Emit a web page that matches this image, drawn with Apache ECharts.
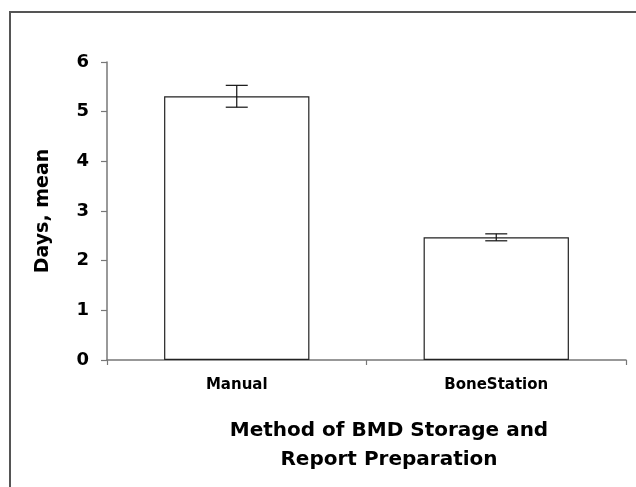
<!DOCTYPE html>
<html>
<head>
<meta charset="utf-8">
<script src="https://cdn.jsdelivr.net/npm/echarts@6/dist/echarts.min.js"></script>
<style>
  html, body { margin: 0; padding: 0; background: #fff; }
  #chart { width: 636px; height: 487px; }
</style>
</head>
<body>
<div id="chart"></div>
<script>
// data
var methods = ["Manual", "BoneStation"];
var daysMean = [5.31, 2.47];
var daysErr = [0.22, 0.07];
var yTicks = [0, 1, 2, 3, 4, 5, 6];

var errData = methods.map(function (m, i) {
  return [i, daysMean[i] - daysErr[i], daysMean[i] + daysErr[i]];
});

var chart = echarts.init(document.getElementById("chart"));
var font = "DejaVu Sans";
var axisGrey = "#777";

var option = {
  backgroundColor: "#fff",
  animation: false,
  graphic: [
    {
      // outer frame (left + top edges)
      type: "polyline",
      shape: { points: [[10, 487], [10, 12], [636, 12]] },
      style: { stroke: "#555", lineWidth: 2, fill: null }
    }
  ],
  grid: { left: 107, right: 10, top: 62, bottom: 127 },
  xAxis: {
    type: "category",
    data: methods,
    axisLine: { lineStyle: { color: axisGrey, width: 1.5 } },
    axisTick: { show: true, length: 5, lineStyle: { color: axisGrey, width: 1.2 } },
    axisLabel: {
      margin: 18,
      color: "#000",
      fontFamily: font,
      fontWeight: "bold",
      fontSize: 15
    },
    name: "Method of BMD Storage and\nReport Preparation",
    nameLocation: "middle",
    nameGap: 56,
    nameTextStyle: {
      color: "#000",
      fontFamily: font,
      fontWeight: "bold",
      fontSize: 20,
      lineHeight: 29,
      padding: [0, 0, 0, 45]
    }
  },
  yAxis: {
    type: "value",
    min: yTicks[0],
    max: yTicks[yTicks.length - 1],
    interval: 1,
    splitLine: { show: false },
    axisLine: { show: true, lineStyle: { color: axisGrey, width: 1.5 } },
    axisTick: { show: true, length: 6, lineStyle: { color: axisGrey, width: 1.2 } },
    axisLabel: {
      margin: 18,
      color: "#000",
      fontFamily: font,
      fontWeight: "bold",
      fontSize: 18
    },
    name: "Days, mean",
    nameLocation: "middle",
    nameRotate: 90,
    nameGap: 54,
    nameTextStyle: {
      color: "#000",
      fontFamily: font,
      fontWeight: "bold",
      fontSize: 19
    }
  },
  series: [
    {
      type: "bar",
      data: daysMean,
      barWidth: "56%",
      z: 3,
      itemStyle: { color: "#fff", borderColor: "#222", borderWidth: 1.2 }
    },
    {
      type: "custom",
      data: errData,
      z: 5,
      renderItem: function (params, api) {
        var x = api.value(0);
        var lo = api.coord([x, api.value(1)]);
        var hi = api.coord([x, api.value(2)]);
        var hw = 11;
        var st = { stroke: "#111", lineWidth: 1.2 };
        return {
          type: "group",
          children: [
            { type: "line", shape: { x1: hi[0], y1: hi[1], x2: lo[0], y2: lo[1] }, style: st },
            { type: "line", shape: { x1: hi[0] - hw, y1: hi[1], x2: hi[0] + hw, y2: hi[1] }, style: st },
            { type: "line", shape: { x1: lo[0] - hw, y1: lo[1], x2: lo[0] + hw, y2: lo[1] }, style: st }
          ]
        };
      }
    }
  ]
};

chart.setOption(option);
</script>
</body>
</html>
